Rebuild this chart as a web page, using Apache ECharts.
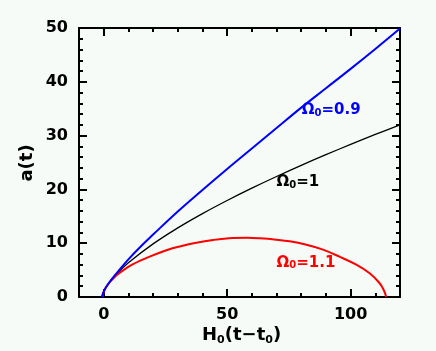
<!DOCTYPE html>
<html>
<head>
<meta charset="utf-8">
<script src="https://cdn.jsdelivr.net/npm/echarts@6/dist/echarts.min.js"></script>
<style>
html,body{margin:0;padding:0;background:#f6fbf8;}
#c{width:436px;height:351px;}
</style>
</head>
<body>
<div id="c"></div>
<script>
// Data: [H0(t-t0), a(t)]
var openCurve = [[-0.7,0],[0,1],[2,2.55],[5,4.3],[10,7.0],[15,9.4],[20,11.6],[30,15.9],[40,19.9],[50,23.8],[60,27.6],[70,31.4],[80,35.2],[90,38.8],[100,42.4],[110,46.1],[120,49.9]];
var flatCurve = [[-0.67,0],[0,1],[2,2.52],[5,4.17],[10,6.35],[20,9.87],[30,12.84],[40,15.5],[50,17.94],[60,20.23],[70,22.4],[80,24.47],[90,26.45],[100,28.36],[110,30.21],[120,32.0]];
var closedCurve = [[-0.5,0],[0.5,1.5],[2,2.5],[3.8,3.4],[5.1,4.0],[8,5.0],[11.9,6.1],[18.6,7.5],[25.4,8.7],[30.8,9.4],[37.5,10.1],[44.3,10.6],[52.3,10.95],[58,11.0],[63.2,10.9],[69.9,10.65],[75.3,10.35],[82.1,9.7],[88.8,8.8],[95.5,7.5],[102.3,6.0],[107.7,4.4],[111.7,2.6],[113.5,1.2],[114.4,0]];
var xMajorTicks = [0,50,100];
var curveLabels = [
  {name:'0.9', x:80.2, y:34.2, color:'#0000ff'},
  {name:'1',   x:70,   y:20.8, color:'#000000'},
  {name:'1.1', x:70,   y:5.8,  color:'#ff0000'}
];

var FONT = '"DejaVu Sans", sans-serif';
var chart = echarts.init(document.getElementById('c'), null, {renderer:'canvas'});
var grid = {left:79, right:36, top:28, bottom:54};
var tickStyle = {color:'#000', width:2};
function xAx(pos, major, labels){
  return {
    type:'value', position:pos, min:-10, max:120, interval:10,
    axisLine:{show:major, onZero:false, lineStyle:tickStyle},
    splitLine:{show:false},
    axisTick:major ? {show:true, inside:true, length:8, lineStyle:tickStyle, customValues:xMajorTicks}
                   : {show:true, inside:true, length:4, lineStyle:tickStyle},
    axisLabel:labels ? {show:true, customValues:xMajorTicks, color:'#000', fontFamily:FONT, fontWeight:'bold', fontSize:16, margin:10}
                     : {show:false}
  };
}
function yAx(pos, major, labels){
  return {
    type:'value', position:pos, min:0, max:50, interval:major ? 10 : 2,
    axisLine:{show:major, onZero:false, lineStyle:tickStyle},
    splitLine:{show:false},
    axisTick:{show:true, inside:true, length:major ? 8 : 4, lineStyle:tickStyle},
    axisLabel:labels ? {show:true, color:'#000', fontFamily:FONT, fontWeight:'bold', fontSize:16, margin:11}
                     : {show:false}
  };
}
var option = {
  backgroundColor:'#f6fbf8',
  animation:false,
  grid:grid,
  xAxis:[xAx('bottom',true,true), xAx('bottom',false,false), xAx('top',true,false), xAx('top',false,false)],
  yAxis:[yAx('left',true,true), yAx('left',false,false), yAx('right',true,false), yAx('right',false,false)],
  series:[
    {type:'line', data:openCurve, showSymbol:false, smooth:0.4, lineStyle:{color:'#0000ff', width:2}, z:3},
    {type:'line', data:flatCurve, showSymbol:false, smooth:0.4, lineStyle:{color:'#000000', width:1.3}, z:2},
    {type:'line', data:closedCurve, showSymbol:false, smooth:0.4, lineStyle:{color:'#ff0000', width:2}, z:2}
  ]
};
chart.setOption(option);

var g = [];
curveLabels.forEach(function(l){
  var p = chart.convertToPixel({xAxisIndex:0, yAxisIndex:0}, [l.x, l.y]);
  g.push({type:'text', left:p[0], top:p[1]-10, z:10, style:{
    text:'{a|Ω}{s|0}{a|=' + l.name + '}',
    rich:{
      a:{fontFamily:FONT, fontWeight:'bold', fontSize:15, fill:l.color, verticalAlign:'bottom'},
      s:{fontFamily:FONT, fontWeight:'bold', fontSize:10, fill:l.color, padding:[8,0,0,0], verticalAlign:'bottom'}
    }
  }});
});
g.push({type:'text', left:202, top:326, z:10, style:{
  text:'{a|H}{s|0}{a|(t−t}{s|0}{a|)}',
  rich:{
    a:{fontFamily:FONT, fontWeight:'bold', fontSize:18, fill:'#000'},
    s:{fontFamily:FONT, fontWeight:'bold', fontSize:11, fill:'#000', padding:[10,0,0,0]}
  }
}});
g.push({type:'text', x:27, y:163, rotation:Math.PI/2, z:10, style:{
  text:'a(t)', fontFamily:FONT, fontWeight:'bold', fontSize:18, fill:'#000', align:'center', verticalAlign:'middle'
}});
chart.setOption({graphic:g});
</script>
</body>
</html>
